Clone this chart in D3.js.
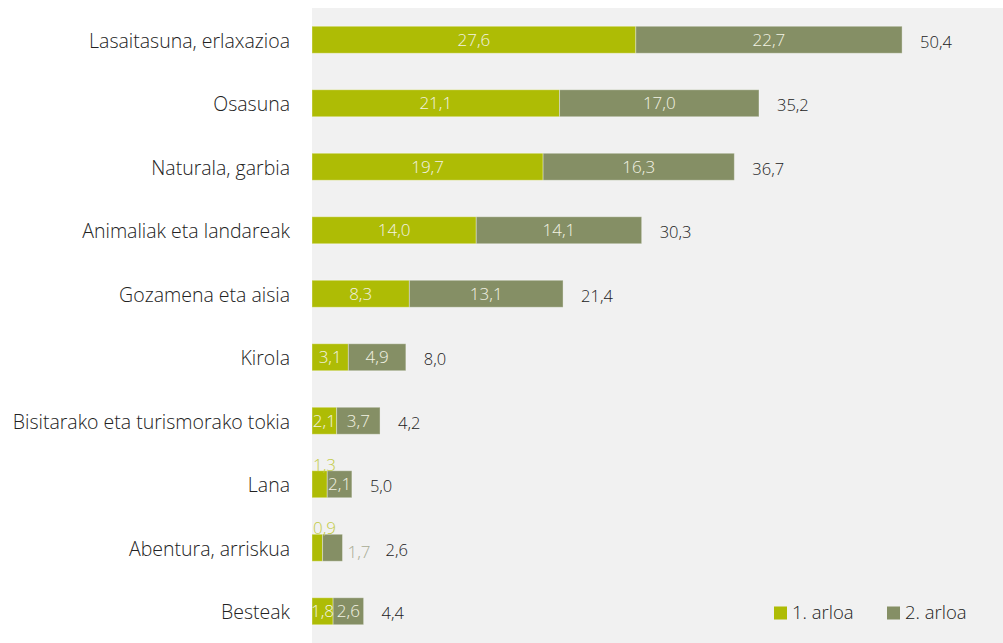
<!DOCTYPE html>
<html>
<head>
<meta charset="utf-8">
<script src="https://cdn.jsdelivr.net/npm/d3@7"></script>
<style>
  body { margin: 0; background: #fff; }
  svg text { font-family: "Open Sans", "Noto Sans", sans-serif; font-weight: 300; }
</style>
</head>
<body>
<svg id="chart" width="1003" height="643"></svg>
<script>
// chart data
var categories = ['Lasaitasuna, erlaxazioa', 'Osasuna', 'Naturala, garbia', 'Animaliak eta landareak',
  'Gozamena eta aisia', 'Kirola', 'Bisitarako eta turismorako tokia', 'Lana', 'Abentura, arriskua', 'Besteak'];
var arloa1 = [27.6, 21.1, 19.7, 14.0, 8.3, 3.1, 2.1, 1.3, 0.9, 1.8];
var arloa2 = [22.7, 17.0, 16.3, 14.1, 13.1, 4.9, 3.7, 2.1, 1.7, 2.6];
var totals = [50.4, 35.2, 36.7, 30.3, 21.4, 8.0, 4.2, 5.0, 2.6, 4.4];
var seriesNames = ['1. arloa', '2. arloa'];

var colors = ['#aebc05', '#858f65'];
var fmt = v => v.toFixed(1).replace('.', ',');

var svg = d3.select('#chart');

var panel = {left: 312, top: 8, right: 1003, bottom: 643};

var x = d3.scaleLinear()
          .domain([0, 58.9])
          .range([panel.left, panel.right]);

var y = d3.scaleBand()
          .domain(categories)
          .range([panel.top, panel.bottom])
          .paddingInner(0.575)
          .paddingOuter(0.2875);

svg.append('rect')
   .attr('x', panel.left)
   .attr('y', panel.top)
   .attr('width', panel.right - panel.left)
   .attr('height', panel.bottom - panel.top)
   .attr('fill', '#f1f1f1');

// category labels
svg.selectAll('.cat')
   .data(categories)
   .enter()
   .append('text')
     .attr('x', 290)
     .attr('y', d => y(d) + y.bandwidth() / 2 + 1)
     .attr('dy', '0.35em')
     .attr('text-anchor', 'end')
     .attr('font-size', 19.5)
     .attr('fill', '#222')
     .text(d => d);

var rows = categories.map((c, i) => ({cat: c, a: arloa1[i], b: arloa2[i], t: totals[i]}));

// segments
var seg = rows.flatMap(r => [
  {cat: r.cat, x0: 0, x1: r.a, v: r.a, s: 0},
  {cat: r.cat, x0: r.a, x1: r.a + r.b, v: r.b, s: 1}
]);

svg.selectAll('.bar')
   .data(seg)
   .enter()
   .append('rect')
     .attr('x', d => x(d.x0))
     .attr('y', d => y(d.cat))
     .attr('width', d => x(d.x1) - x(d.x0))
     .attr('height', y.bandwidth())
     .attr('fill', d => colors[d.s])
     .attr('stroke', 'rgba(255,255,255,0.35)')
     .attr('stroke-width', 1);

// segment labels (small segments get their label outside the bar)
svg.selectAll('.seglabel')
   .data(seg)
   .enter()
   .append('text')
     .attr('font-size', 17)
     .attr('dy', '0.35em')
     .each(function(d) {
       var t = d3.select(this);
       var w = x(d.x1) - x(d.x0);
       var cy = y(d.cat) + y.bandwidth() / 2;
       if (d.s === 0 && w < 18) {
         t.attr('x', x(d.x0) + 1).attr('y', y(d.cat) - 6)
          .attr('text-anchor', 'start').attr('fill', '#c2cb45');
       } else if (d.s === 1 && w < 21) {
         t.attr('x', x(d.x1) + 5).attr('y', cy + 4)
          .attr('text-anchor', 'start').attr('fill', '#a8ac94');
       } else {
         t.attr('x', (x(d.x0) + x(d.x1)) / 2).attr('y', cy)
          .attr('text-anchor', 'middle').attr('fill', '#f3f3e4');
       }
     })
     .text(d => fmt(d.v));

// totals
svg.selectAll('.total')
   .data(rows)
   .enter()
   .append('text')
     .attr('x', d => {
       var end = x(d.a + d.b);
       return (x(d.a + d.b) - x(d.a) < 21) ? end + 43 : end + 18;
     })
     .attr('y', d => y(d.cat) + y.bandwidth() / 2 + 2)
     .attr('dy', '0.35em')
     .attr('font-size', 16.5)
     .attr('fill', '#222')
     .text(d => fmt(d.t));

// legend
var legend = svg.selectAll('.legend')
   .data(seriesNames)
   .enter()
   .append('g')
     .attr('transform', (d, i) => `translate(${774 + i * 113}, 613)`);

legend.append('rect')
   .attr('x', 0)
   .attr('y', -6.5)
   .attr('width', 13)
   .attr('height', 13)
   .attr('fill', (d, i) => colors[i]);

legend.append('text')
   .attr('x', 18)
   .attr('dy', '0.35em')
   .attr('font-size', 18.5)
   .attr('fill', '#222')
   .text(d => d);
</script>
</body>
</html>
